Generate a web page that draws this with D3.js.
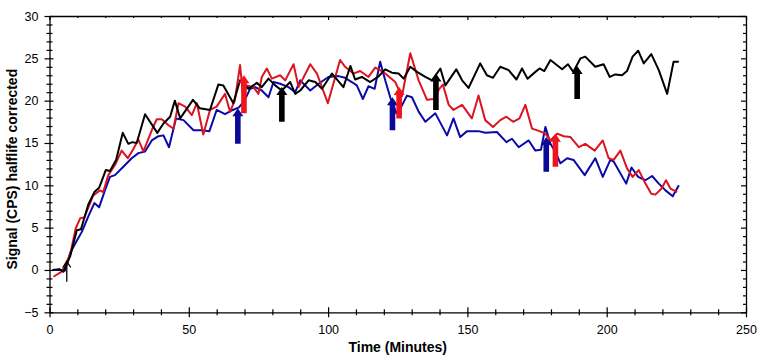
<!DOCTYPE html>
<html>
<head>
<meta charset="utf-8">
<script src="https://cdn.jsdelivr.net/npm/d3@7"></script>
<style>
  body { margin: 0; background: #fff; }
  svg text { font-family: "Liberation Sans", Arial, sans-serif; }
  .axis path { stroke: #000; stroke-width: 1.3; }
  .axis line { stroke: #000; stroke-width: 1.2; }
  .axis text { font-size: 12.5px; fill: #000; }
  .axis-label { font-size: 14px; font-weight: bold; }
</style>
</head>
<body>
<div id="wrapper"></div>
<script>
// Data: [minutes, CPS]
const blackSeries = [[1,0],[3.5,0.1],[5,-0.2],[7.4,1.6],[9.8,4.7],[11.3,4.8],[13.9,7.7],[16.1,9.2],[17.8,9.7],[20.2,11.8],[21.7,11.7],[23.9,13],[26.3,16.2],[28.3,14.9],[29.7,15.1],[31.3,15],[34.3,18.4],[38.7,16.2],[40.9,17.3],[43.3,18.1],[45,20],[46.9,17.9],[51.5,20.1],[54,19.1],[57.6,18.9],[60.6,21.9],[62.4,21.8],[66,19.7],[68.4,22.4],[71.4,21.4],[74.4,22.1],[76.2,21.6],[78.6,22.6],[81,21.8],[83.4,21.2],[86.4,22.2],[88.2,20.8],[90,21.2],[93,22.4],[95.4,22.2],[97.8,21.4],[101.4,23.2],[105.5,21.6],[108,24.1],[109.7,22.5],[112.1,22.8],[115.1,22.2],[117.9,22.8],[120.5,23.7],[122.9,23.3],[125.3,23.2],[127.1,22.6],[129.5,24],[131.9,23.4],[134.9,22.8],[137.3,22.4],[140.3,23.8],[142.1,21.8],[146,23.7],[148.1,22.4],[150.4,21.5],[154.6,24.4],[157,23],[159.2,22.7],[161.8,24],[164.8,23.6],[167.6,22.5],[169.6,23.8],[171.6,22.6],[174.4,23.4],[175.9,23.8],[177.6,23.5],[179.8,24.8],[184,23.7],[186.1,24.3],[188,23.4],[190.6,25],[192.3,25.2],[195.9,24],[198.9,24.3],[201.1,22.8],[203.1,23.1],[205.5,23],[207.3,23.5],[209.3,25.2],[211.3,25.9],[213.3,24.4],[216,25.5],[218.7,23.6],[221.7,20.8],[224,24.6],[225.9,24.6]]

const redSeries = [[1.4,-0.8],[4.4,-0.2],[7.4,1.8],[9.4,4.9],[11,6.1],[12.5,6.2],[15.7,8.8],[18.1,9.4],[19.3,9.2],[21.1,11.2],[23.5,12.4],[25.9,14.1],[28.1,13.2],[30.1,14.3],[31.9,15.4],[33.7,14],[36.7,16.5],[38.5,17.8],[40.3,17.8],[42.7,17.1],[44.5,16.7],[46.3,19.7],[48.7,19.3],[51.1,18.3],[52.9,19.7],[55.2,16],[57.6,18.9],[60,19.3],[63,20.8],[64.8,18.7],[66.5,20],[68.4,24.2],[69.5,20.5],[70.8,21.8],[73.2,21.6],[75,20.8],[76.2,22.8],[78,23.8],[79.8,22.6],[82.8,23],[84.6,22.4],[87.6,24.3],[89.4,21.6],[93.6,24.3],[96,23.2],[99.9,19.7],[104.3,24.8],[106.1,24],[109.1,23.2],[111.5,23.5],[114.5,22.8],[116.9,23.9],[118.7,23.6],[120.5,23.2],[124.1,22.2],[126.5,20.5],[129.5,25.6],[132.5,22.4],[135.5,20.1],[137.9,20.2],[139.7,21.3],[141.2,21.9],[143.3,19.5],[145,18.9],[148.1,19.5],[151.6,17.9],[154,20.6],[156.4,17.7],[159.2,16.9],[161.8,17.7],[164,18.1],[166.4,17.5],[168.7,17.9],[170.8,19.5],[173.2,16.7],[175.9,16.4],[178,16.1],[179.8,15.3],[182.2,16.1],[184.6,15.8],[187,15.7],[190,14.5],[192.3,14.9],[195.7,14.1],[198.6,15.3],[200.7,13.2],[202.5,13],[204.9,14.1],[207.3,12],[209.3,11],[211.5,11.8],[213.6,10.4],[216,9],[217.5,8.9],[219.6,9.6],[221.3,10.6],[222.9,9.6],[225.3,9.2]]

const blueSeries = [[1.4,0],[4.4,0],[5.5,-0.1],[7.4,2],[9.2,3.1],[11.6,4.5],[13.9,6.3],[16.1,7.9],[17.8,7.4],[19.9,9.4],[21.7,11],[23.5,11.2],[26.5,12.2],[29.5,13.2],[31.9,13.8],[34.3,14],[36.7,15.3],[39.1,15.8],[40.9,15.9],[42.9,14.5],[45.4,17.9],[48.1,17.7],[51.7,16.5],[54.7,16.5],[57.4,16.4],[60,18.9],[63,18.4],[65.8,18.9],[68,19.2],[70,20],[72,21.4],[73.8,21.6],[76.2,21.2],[78.6,20.4],[80.4,22.2],[82.8,22],[85.8,21.6],[88.2,21],[90,22.4],[93.6,21.2],[96.6,22],[100.1,22.8],[103.7,22.9],[106.1,22.7],[108.5,22.2],[110.3,21.8],[112.5,20.2],[114.5,21.7],[116.7,21.4],[118.7,24.6],[120.5,22.4],[122.3,20.4],[124.5,18.5],[126.3,19.3],[128.3,20.6],[130.1,20.4],[132.5,18.7],[134.9,17.5],[138.5,18.5],[142.7,15.9],[145,17.9],[147.4,15.7],[149.9,16.4],[154,16.4],[156.4,16.2],[160.6,16.3],[164,15.1],[166,15.5],[168.4,14.5],[172,15.3],[174.4,14.1],[176.4,14.2],[178,16.9],[179.8,14.9],[181.5,14],[183.4,12.6],[185.8,13.2],[188.1,13],[192.1,11.2],[195.9,13.2],[198.6,11],[201.3,13],[202.5,12.8],[207,10.2],[208.9,12.1],[211.3,11],[213.9,10.6],[216.3,11.1],[218.7,10.2],[221.1,9.4],[223.7,8.7],[225.9,10]]

// arrows: time, from, to
const blueArrows = [[67.6,14.9,19.1],[123.1,16.5,20.4],[178.3,11.6,15.7]]
const redArrows = [[69.8,18.5,23],[125.5,17.9,21.6],[181.6,12.2,16.1]]
const blackArrows = [[83.4,17.5,21.6],[138.7,18.9,23.2],[189.4,20.2,24.1]]
const startArrow = [6.2, -1.4, 1.0]

const xTicks = [0, 50, 100, 150, 200, 250]
const yTicks = [-5, 0, 5, 10, 15, 20, 25, 30]

const width = 765
const height = 362
const dimensions = { left: 49.5, right: 746, top: 16, bottom: 312.3 }

const svg = d3.select("#wrapper").append("svg")
    .attr("width", width)
    .attr("height", height)

const xScale = d3.scaleLinear().domain([0, 250]).range([dimensions.left, dimensions.right])
const yScale = d3.scaleLinear().domain([-5, 30]).range([dimensions.bottom, dimensions.top])

const xMinor = d3.range(0, 251, 10).filter(d => d % 50 != 0)
const yMinor = d3.range(-5, 31, 1).filter(d => d % 5 != 0)

// bottom axis, ticks cross the line
const xAxis = svg.append("g").attr("class", "axis")
    .attr("transform", `translate(0,${dimensions.bottom})`)
    .call(d3.axisBottom(xScale).tickValues(xTicks).tickSize(5).tickPadding(8).tickSizeOuter(0))
xAxis.selectAll(".tick line").attr("y1", -5)
const xAxisMinor = svg.append("g").attr("class", "axis")
    .attr("transform", `translate(0,${dimensions.bottom})`)
    .call(d3.axisBottom(xScale).tickValues(xMinor).tickSize(3).tickFormat("").tickSizeOuter(0))
xAxisMinor.selectAll(".tick line").attr("y1", -3)
xAxisMinor.select(".domain").remove()

// left axis
const yAxis = svg.append("g").attr("class", "axis")
    .attr("transform", `translate(${dimensions.left},0)`)
    .call(d3.axisLeft(yScale).tickValues(yTicks).tickSize(5).tickPadding(6).tickSizeOuter(0))
yAxis.selectAll(".tick line").attr("x1", 4)
const yAxisMinor = svg.append("g").attr("class", "axis")
    .attr("transform", `translate(${dimensions.left},0)`)
    .call(d3.axisLeft(yScale).tickValues(yMinor).tickSize(3).tickFormat("").tickSizeOuter(0))
yAxisMinor.selectAll(".tick line").attr("x1", 3)
yAxisMinor.select(".domain").remove()

// top and right frame with inward ticks
svg.append("g").attr("class", "axis")
    .attr("transform", `translate(0,${dimensions.top})`)
    .call(d3.axisBottom(xScale).tickValues(xTicks).tickSize(4).tickFormat("").tickSizeOuter(0))
svg.append("g").attr("class", "axis")
    .attr("transform", `translate(0,${dimensions.top})`)
    .call(d3.axisBottom(xScale).tickValues(xMinor).tickSize(2).tickFormat("").tickSizeOuter(0))
    .select(".domain").remove()
svg.append("g").attr("class", "axis")
    .attr("transform", `translate(${dimensions.right},0)`)
    .call(d3.axisLeft(yScale).tickValues(yTicks).tickSize(5).tickFormat("").tickSizeOuter(0))
svg.append("g").attr("class", "axis")
    .attr("transform", `translate(${dimensions.right},0)`)
    .call(d3.axisLeft(yScale).tickValues(yMinor).tickSize(3).tickFormat("").tickSizeOuter(0))
    .select(".domain").remove()

// axis labels
svg.append("text")
    .attr("class", "axis-label")
    .attr("x", (dimensions.left + dimensions.right) / 2)
    .attr("y", 352)
    .attr("text-anchor", "middle")
    .text("Time (Minutes)")

svg.append("text")
    .attr("class", "axis-label")
    .attr("transform", `translate(17,${(dimensions.top + dimensions.bottom) / 2 + 5}) rotate(-90)`)
    .attr("text-anchor", "middle")
    .text("Signal (CPS) halflife corrected")

// lines
const lineGenerator = d3.line()
    .x(d => xScale(d[0]))
    .y(d => yScale(d[1]))

const series = [
    { data: blueSeries, color: "#0a0aa8" },
    { data: redSeries, color: "#dc1420" },
    { data: blackSeries, color: "#000" },
]

svg.append("g").selectAll("path")
    .data(series)
    .join("path")
    .attr("d", d => lineGenerator(d.data))
    .attr("fill", "none")
    .attr("stroke", d => d.color)
    .attr("stroke-width", 2)
    .attr("stroke-linejoin", "round")

// thick arrows
function arrowPath(d) {
    const x = xScale(d[0])
    const y0 = yScale(d[1])
    const y1 = yScale(d[2])
    const shaft = 2.8
    const head = 5.5
    const headLen = 8
    return `M${x - shaft},${y0} L${x - shaft},${y1 + headLen} L${x - head},${y1 + headLen} ` +
        `L${x},${y1} L${x + head},${y1 + headLen} L${x + shaft},${y1 + headLen} L${x + shaft},${y0} Z`
}

const arrowGroups = [
    { data: blueArrows, color: "#0a0a96" },
    { data: redArrows, color: "#f0141e" },
    { data: blackArrows, color: "#000" },
]
arrowGroups.forEach(g => {
    svg.append("g").selectAll("path")
        .data(g.data)
        .join("path")
        .attr("d", arrowPath)
        .attr("fill", g.color)
})

// thin start arrow
const sx = xScale(startArrow[0])
const sy0 = yScale(startArrow[1])
const sy1 = yScale(startArrow[2])
svg.append("path")
    .attr("d", `M${sx},${sy0} L${sx},${sy1} M${sx - 4},${sy1 + 6} L${sx},${sy1} L${sx + 4},${sy1 + 6}`)
    .attr("fill", "none")
    .attr("stroke", "#000")
    .attr("stroke-width", 1.3)
</script>
</body>
</html>
